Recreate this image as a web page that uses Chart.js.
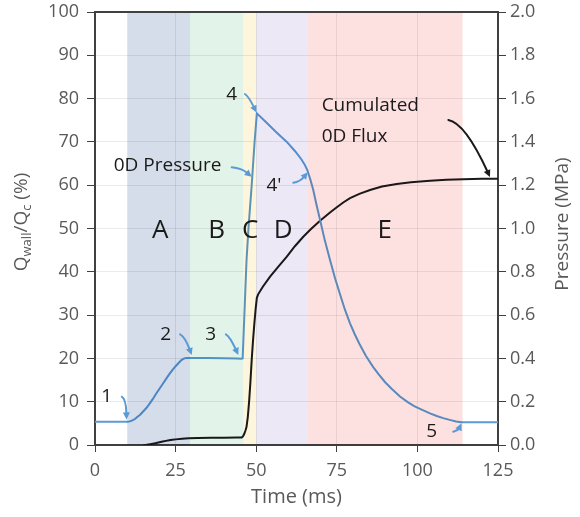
<!DOCTYPE html>
<html>
<head>
<meta charset="utf-8">
<script src="https://cdn.jsdelivr.net/npm/chart.js@4/dist/chart.umd.min.js"></script>
<style>
  html, body { margin: 0; padding: 0; background: #fff; }
  #wrap { width: 580px; height: 517px; }
</style>
</head>
<body>
<div id="wrap"><canvas id="c" width="580" height="517"></canvas></div>
<script>
// 0D pressure (MPa) against time (ms)
const pressureTime = [0, 10, 10.8, 11.6, 12.4, 13.2, 14, 15, 16, 17, 18, 19, 20, 21, 22, 23, 24, 25, 26, 26.8, 27.5, 28.3,
  35, 40, 44, 45.5, 45.8, 47, 47.6, 48.6, 49.5, 50.2, 53, 56, 59.5, 62, 64, 65, 65.85, 66.8, 67.7, 68.7, 69.8, 71.3,
  72.9, 74.5, 76, 77.5, 79.1, 80.5, 82, 84, 86.3, 88, 90, 92, 94.6, 97, 99, 101.5, 103.9, 106, 108, 110, 112, 113.7, 125];
const pressureMPa = [0.107, 0.107, 0.109, 0.114, 0.120, 0.130, 0.140, 0.156, 0.172, 0.192, 0.214, 0.238, 0.260, 0.282, 0.304, 0.326, 0.346, 0.364, 0.380, 0.392, 0.399, 0.402,
  0.402, 0.401, 0.400, 0.398, 0.400, 0.854, 1.000, 1.200, 1.400, 1.532, 1.492, 1.448, 1.400, 1.358, 1.320, 1.296, 1.270, 1.226, 1.178, 1.110, 1.040, 0.944,
  0.854, 0.768, 0.696, 0.626, 0.562, 0.514, 0.468, 0.412, 0.360, 0.326, 0.290, 0.260, 0.224, 0.198, 0.180, 0.162, 0.146, 0.134, 0.124, 0.116, 0.109, 0.105, 0.105];

// Cumulated 0D flux, Q_wall/Q_c (%) against time (ms)
const fluxTime = [15, 16, 17, 18, 19, 20, 21, 22, 23, 24, 25, 27, 29, 32, 36, 40, 44, 45.5, 45.9, 46.3, 46.7, 47, 47.4, 47.8,
  48.2, 48.6, 49, 49.4, 49.8, 50.2, 50.6, 52, 54.3, 57, 59.5, 62, 64.6, 67, 69.8, 72.9, 75, 77, 79.1, 82, 85.3, 89, 93.6,
  98, 103.9, 109, 114.2, 120, 125];
const fluxPct = [0, 0.05, 0.15, 0.3, 0.45, 0.62, 0.8, 0.95, 1.1, 1.2, 1.3, 1.45, 1.55, 1.62, 1.67, 1.7, 1.73, 1.75, 2.0, 2.6, 3.4, 4.2, 6.5, 10,
  14.5, 19.6, 24, 27.8, 31.2, 34.0, 34.8, 36.5, 38.9, 41.3, 43.5, 45.9, 48.1, 49.9, 51.8, 53.7, 54.9, 56.0, 57.0, 58.0, 58.9, 59.7, 60.3,
  60.7, 61.0, 61.25, 61.4, 61.5, 61.5];

// Phases of the transient (ms)
const phaseNames = ['A', 'B', 'C', 'D', 'E'];
const phaseStart = [10, 29.5, 46, 50, 66];
const phaseEnd = [29.5, 46, 50, 66, 114];
const phaseColors = ['#d5dcea', '#e2f4e9', '#fdf5dc', '#ece8f5', '#fde1e1'];
const phaseLabelAt = [20.2, 37.7, 48.1, 58.4, 89.9];

const BLUE = '#5b9bd5';
const INK = '#1a1a1a';
const GREY = '#595959';
const FONT = "'Open Sans', 'DejaVu Sans', sans-serif";

// Callout labels with their hooked leader arrows, in (time, %) units
const callouts = [
  { text: '1', at: [3.6, 11.2], path: [[8.3, 11.15], [9.6, 10.6], [9.8, 5.9]], color: BLUE },
  { text: '2', at: [21.9, 25.6], path: [[26.4, 25.57], [27.9, 25.0], [30.0, 20.8]], color: BLUE },
  { text: '3', at: [35.9, 25.6], path: [[40.6, 25.57], [41.9, 25.0], [44.45, 20.8]], color: BLUE },
  { text: '4', at: [42.4, 81.0], path: [[46.5, 81.06], [47.55, 80.6], [50.1, 76.8]], color: BLUE },
  { text: '0D Pressure', at: [22.5, 64.5], path: [[42.4, 64.13], [45.5, 63.9], [48.6, 61.96]], color: BLUE },
  { text: "4'", at: [55.5, 60.0], path: [[61.5, 60.58], [63.6, 60.81], [66.0, 63.0]], color: BLUE },
  { text: '5', at: [104.4, 3.1], path: [[111.1, 3.07], [112.7, 3.46], [113.7, 5.0]], color: BLUE },
  { text: 'Cumulated', at: [70.3, 78.5], align: 'left' },
  { text: '0D Flux', at: [70.3, 71.2], align: 'left', path: [[109.6, 75.06], [114.8, 74.37], [122.5, 61.9]], color: INK }
];

function pts(xs, ys) { return xs.map((x, i) => ({ x: x, y: ys[i] })); }

function arrow(ctx, p, color) {
  ctx.save();
  ctx.strokeStyle = color; ctx.fillStyle = color;
  ctx.lineWidth = 2; ctx.lineJoin = 'round'; ctx.lineCap = 'round';
  const [a, b, e] = p;
  const ang = Math.atan2(e[1] - b[1], e[0] - b[0]);
  const L = 7, W = 3.5;
  const bx = e[0] - Math.cos(ang) * (L - 1), by = e[1] - Math.sin(ang) * (L - 1);
  ctx.beginPath();
  ctx.moveTo(a[0], a[1]);
  ctx.quadraticCurveTo(b[0], b[1], bx, by);
  ctx.stroke();
  ctx.beginPath();
  ctx.moveTo(e[0], e[1]);
  ctx.lineTo(e[0] - Math.cos(ang) * L - Math.sin(ang) * W, e[1] - Math.sin(ang) * L + Math.cos(ang) * W);
  ctx.lineTo(e[0] - Math.cos(ang) * L + Math.sin(ang) * W, e[1] - Math.sin(ang) * L - Math.cos(ang) * W);
  ctx.closePath();
  ctx.fill();
  ctx.restore();
}

function richText(ctx, parts, cx, cy, size, angle) {
  ctx.save();
  ctx.translate(cx, cy);
  ctx.rotate(angle);
  ctx.textBaseline = 'middle';
  ctx.fillStyle = GREY;
  let total = 0;
  parts.forEach(p => {
    ctx.font = (p.sub ? Math.round(size * 0.68) : size) + 'px ' + FONT;
    p.w = ctx.measureText(p.t).width;
    total += p.w;
  });
  let x = -total / 2;
  parts.forEach(p => {
    ctx.font = (p.sub ? Math.round(size * 0.68) : size) + 'px ' + FONT;
    ctx.textAlign = 'left';
    ctx.fillText(p.t, x, p.sub ? size * 0.3 : 0);
    x += p.w;
  });
  ctx.restore();
}

const decor = {
  id: 'decor',
  afterDatasetsDraw(chart) {
    const ctx = chart.ctx, a = chart.chartArea;
    const X = chart.scales.x, Y = chart.scales.y;
    const px = t => X.getPixelForValue(t), py = v => Y.getPixelForValue(v);

    // phase bands, tinted over grid and curves
    ctx.save();
    ctx.globalCompositeOperation = 'multiply';
    phaseStart.forEach((s, i) => {
      ctx.fillStyle = phaseColors[i];
      ctx.fillRect(px(s), a.top, px(phaseEnd[i]) - px(s), a.bottom - a.top);
    });
    ctx.restore();

    // top frame edge
    ctx.save();
    ctx.strokeStyle = '#404040'; ctx.lineWidth = 2;
    ctx.beginPath(); ctx.moveTo(a.left, a.top); ctx.lineTo(a.right, a.top); ctx.stroke();
    ctx.restore();

    // phase letters
    ctx.save();
    ctx.fillStyle = INK; ctx.textAlign = 'center'; ctx.textBaseline = 'middle';
    ctx.font = '26px ' + FONT;
    phaseNames.forEach((n, i) => ctx.fillText(n, px(phaseLabelAt[i]), py(49.6)));
    ctx.restore();

    // callouts
    callouts.forEach(c => {
      ctx.save();
      ctx.fillStyle = INK; ctx.font = '19px ' + FONT;
      ctx.textAlign = c.align || 'center'; ctx.textBaseline = 'middle';
      ctx.fillText(c.text, px(c.at[0]), py(c.at[1]));
      ctx.restore();
      if (c.path) arrow(ctx, c.path.map(q => [px(q[0]), py(q[1])]), c.color);
    });
  },
  afterDraw(chart) {
    const ctx = chart.ctx, a = chart.chartArea;
    ctx.save();
    ctx.fillStyle = GREY; ctx.font = '20px ' + FONT;
    ctx.textAlign = 'center'; ctx.textBaseline = 'middle';
    ctx.fillText('Time (ms)', (a.left + a.right) / 2, 497);
    ctx.restore();
    richText(ctx, [{ t: 'Q' }, { t: 'wall', sub: true }, { t: '/Q' }, { t: 'c', sub: true }, { t: ' (%)' }], 22, 222, 19, -Math.PI / 2);
    richText(ctx, [{ t: 'Pressure (MPa)' }], 563, 224, 19, -Math.PI / 2);
  }
};

Chart.defaults.font.family = FONT;

new Chart(document.getElementById('c'), {
  type: 'line',
  data: {
    datasets: [
      {
        label: '0D Pressure',
        data: pts(pressureTime, pressureMPa),
        yAxisID: 'y1',
        borderColor: BLUE, borderWidth: 2, pointRadius: 0, tension: 0
      },
      {
        label: 'Cumulated 0D Flux',
        data: pts(fluxTime, fluxPct),
        yAxisID: 'y',
        borderColor: INK, borderWidth: 2, pointRadius: 0, tension: 0
      }
    ]
  },
  options: {
    responsive: false,
    animation: false,
    events: [],
    layout: { padding: { top: 12, left: 0, right: 0, bottom: 0 } },
    plugins: { legend: { display: false }, tooltip: { enabled: false } },
    scales: {
      x: {
        type: 'linear', position: 'bottom', min: 0, max: 125,
        ticks: { stepSize: 25, color: GREY, font: { size: 18 }, padding: 8, maxRotation: 0 },
        grid: { color: 'rgba(0,0,0,0.08)', tickColor: '#404040', tickLength: 7, lineWidth: 1 },
        border: { color: '#404040', width: 2 },
        afterFit(s) { s.height = 72; s.paddingLeft = 0; s.paddingRight = 0; }
      },
      y: {
        type: 'linear', position: 'left', min: 0, max: 100,
        ticks: { stepSize: 10, color: GREY, font: { size: 18 }, padding: 8 },
        grid: { color: 'rgba(0,0,0,0.08)', tickColor: '#404040', tickLength: 8, lineWidth: 1 },
        border: { color: '#404040', width: 2 },
        afterFit(s) { s.width = 95; s.paddingTop = 0; s.paddingBottom = 0; }
      },
      y1: {
        type: 'linear', position: 'right', min: 0, max: 2,
        ticks: { stepSize: 0.2, color: GREY, font: { size: 18 }, padding: 4, callback: v => v.toFixed(1) },
        grid: { drawOnChartArea: false, tickColor: '#404040', tickLength: 8 },
        border: { color: '#404040', width: 2 },
        afterFit(s) { s.width = 82; s.paddingTop = 0; s.paddingBottom = 0; }
      }
    }
  },
  plugins: [decor]
});
</script>
</body>
</html>
